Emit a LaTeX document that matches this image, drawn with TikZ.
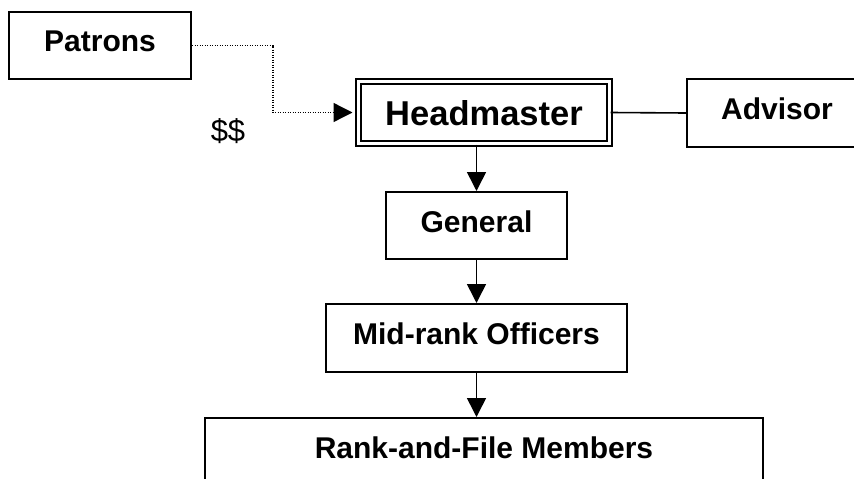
\documentclass[tikz,border=0pt]{standalone}
\usepackage{fontspec}
\setmainfont{Liberation Sans}
\usetikzlibrary{arrows.meta, positioning}
\tikzstyle{unit} = [rectangle, draw=black, line width=2pt, font=\fontsize{30}{36}\selectfont\bfseries, text depth=8pt, inner sep=0pt]
\tikzstyle{link} = [line width=1.6pt, -{Triangle[length=19pt,width=19pt]}]

\begin{document}
\begin{tikzpicture}[x=1pt, y=-1pt]
		\useasboundingbox (0,0) rectangle (854,479);
		\clip (0,0) rectangle (854,479);
		\node (Patrons)[unit, minimum width=182pt, minimum height=67pt] at (100,45.5) {Patrons};
		\node (Headmaster)[unit, double, double distance=3pt, minimum width=251pt, minimum height=62pt, font=\fontsize{34.5}{40}\selectfont\bfseries, text depth=0pt] at (484,112.5) {Headmaster};
		\node (Advisor)[unit, minimum width=180pt, minimum height=68pt] at (777,113) {Advisor};
		\node (General)[unit, minimum width=181pt, minimum height=67pt] at (476.5,225.5) {General};
		\node (Officers)[unit, minimum width=301pt, minimum height=68pt] at (476.5,338) {Mid-rank Officers};
		\node (Members)[unit, minimum width=558pt, minimum height=0pt, text height=40pt, text depth=26pt, anchor=base] at (484,458) {Rank-and-File Members};
		\node (Cash) at (228,131) {\fontsize{31}{37}\selectfont \$\$};
		\coordinate (bend) at (273,112.5);
		\draw [link, line width=1.3pt, dash pattern=on 1.2pt off 1.3pt, shorten >=5pt] (Patrons.east) -| (bend) -- (Headmaster.west);
		\draw [line width=1.6pt] (Headmaster.east) -- (Advisor.west);
		\draw [link] (Headmaster.south -| General.north) -- (General.north);
		\draw [link] (General.south) -- (Officers.north);
		\draw [link] (Officers.south) -- (Members.north -| Officers.south);
	\end{tikzpicture}
\end{document}
